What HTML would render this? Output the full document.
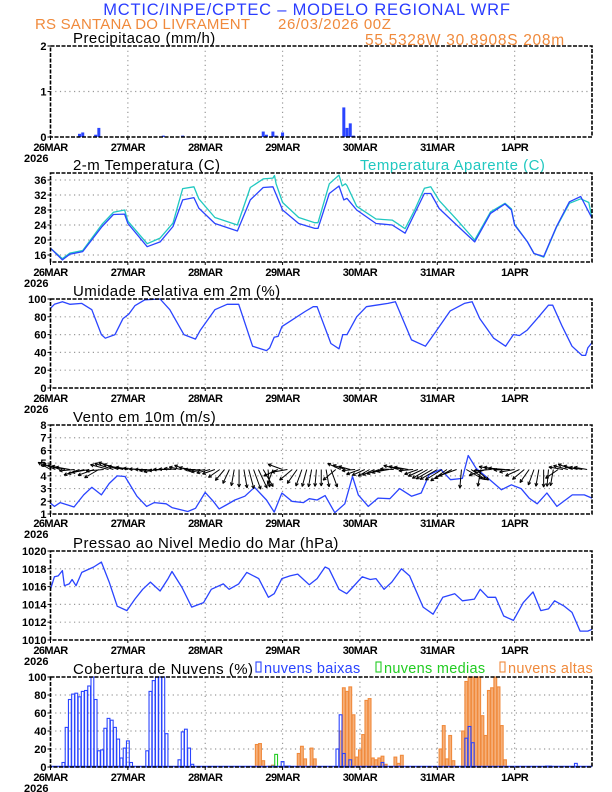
<!DOCTYPE html>
<html><head><meta charset="utf-8">
<style>
html,body{margin:0;padding:0;background:#fff;}
svg{display:block;font-family:"Liberation Sans",sans-serif;}
.tl{font-size:11px;font-weight:bold;fill:#000;}
.ttl{font-size:15px;fill:#000;letter-spacing:0.45px;}
</style></head>
<body>
<svg id="chart" width="612" height="792" viewBox="0 0 612 792" xmlns="http://www.w3.org/2000/svg">
<text x="307" y="15" text-anchor="middle" font-size="16.5" fill="#2a3cff" letter-spacing="0.8">MCTIC/INPE/CPTEC – MODELO REGIONAL WRF</text>
<text x="35" y="29" font-size="15" fill="#f08a3c" letter-spacing="0.2">RS SANTANA DO LIVRAMENT</text>
<text x="278" y="29" font-size="15" fill="#f08a3c" letter-spacing="0.6">26/03/2026 00Z</text>
<text x="365" y="45" font-size="15.5" fill="#f08a3c" letter-spacing="0.7">55.5328W 30.8908S 208m</text>
</svg>
<script>
const NS="http://www.w3.org/2000/svg";
const svg=document.getElementById('chart');
const BLUE="#2a44ff", CYAN="#20c8c0", ORANGE="#f08a3c", GREEN="#22cc22";
const dayLabels=["26MAR","27MAR","28MAR","29MAR","30MAR","31MAR","1APR"];
const precipHours=[9,10,14,15,35,41,66,67,69,70,72,91,92,93,94];
const precipVals=[0.07,0.1,0.05,0.2,0.03,0.03,0.12,0.05,0.12,0.03,0.1,0.65,0.2,0.3,0.03];
const tempHours=[0,3.7,6,10,16,19.5,23,24,30,34,38,41,44.5,46,51,58,62,66,69,72,77,82,83,86.5,89.5,91,92,95,101,106,110,113,116,118,120.6,126,131.6,136.5,141,143,144,148,150,153,157,161,164.5,168];
const tempVals=[17.8,14.7,16.2,16.9,23.6,26.8,26.9,24.4,18.2,19.5,23.6,30.7,31.3,28.5,24.4,22.4,30.7,34,34.2,28,24.4,23.1,23.1,32.4,34.4,30.7,31.1,28,24.4,24,21.8,27.1,32.4,32.4,28.4,24,19.5,27.1,29.6,28,24,19.5,16.4,15.6,23.6,30.2,31.6,25.8];
const appHours=[0,3.7,6,10,16,19.5,23,24,30,34,38,41,44.5,46,51,58,62,66,69,69.5,70,72,77,82,83,86.5,89.5,90.5,91.5,92,95,101,106,110,113,116,118,120.6,126,131.6,136.5,141,143,144,148,150,153,157,161,164.5,167,168];
const appVals=[17.8,15,16.5,17.2,24.2,27.4,28,25,19,20.5,24.5,33.7,34.2,31,26,24,34,36.3,36.5,37.2,35,30,26,24.6,24.6,35,37.3,34.4,35,34.5,29,25.6,25.3,23,28,33.8,34.2,30.5,25.5,20,27.5,29.8,28.3,24.2,19.5,16.4,15.4,23.4,29.8,31,30,25.8];
const rhHours=[0,1.2,3.7,6,9.7,12.8,15.8,17,20,22.5,24.3,26.2,29.2,34,37,41.4,45,46.5,51,54.8,58.4,62.7,67,68,69.4,70.6,71.8,74.3,79,81.5,82.7,87,89.5,90.7,92,95,98,101,104.7,107,112,116.3,119.3,124,128.4,130.8,133.2,137.5,141.2,143.6,145.5,147.9,151,154.5,155.8,158.8,161.8,164.9,166,166.7,168];
const rhVals=[89.5,94,97,94,95,88,60,56,60,78,83,92.5,99,100,88,60,55,65,88,94,94,47,42,45,57,58,69,75,86,91.4,91.4,50,44,60,60,80,91.4,93,95,97,54,47,62,86.6,95,97,78,56,47,60,59,65,78,93,93,69,47,36.6,36.6,45,51];
const windHours=[0,1.2,3,5.5,7.3,10.3,12.8,15.8,18.2,20.7,23.1,26.8,29.8,32.2,35.9,37.7,42.6,45,48,50.5,52.3,54.8,57.2,60.3,63.3,67,69.4,71.8,74.9,78.5,80.3,82.7,85.2,88.2,91.3,93.7,95.5,98.6,101.6,105.3,108.3,112,115,117.5,121.1,124.1,127.8,129.6,132,136.3,139.9,143,146,148.5,151,154,157.1,161.9,165.6,168];
const windVals=[1.86,1.6,1.9,1.7,1.55,2.5,3.1,2.5,3.4,4.0,3.95,2.4,1.6,1.9,1.8,1.5,1.2,1.45,2.7,2.0,1.4,1.75,2.1,2.4,3.1,2.1,1.15,2.65,2.0,1.9,2.2,2.1,2.45,1.1,1.8,3.95,2.5,1.6,2.25,2.2,3.0,2.4,2.65,4.1,4.5,3.7,3.8,5.6,4.6,3.7,2.9,3.3,3.0,2.25,1.8,2.65,1.6,2.5,2.5,2.25];
const arrowHours=[0,1.5,3,4.5,6,7.5,9,10.5,12,13.5,15,16.5,18,19.5,21,22.5,24,25.5,27,28.5,30,31.5,33,34.5,36,37.5,39,40.5,42,43.5,45,46.5,48,49.5,51,52.5,54,55.5,57,58.5,60,61.5,63,64.5,66,67.5,69,70.5,72,73.5,75,76.5,78,79.5,81,82.5,84,85.5,87,88.5,90,91.5,93,94.5,96,97.5,99,100.5,102,103.5,105,106.5,108,109.5,111,112.5,114,115.5,117,118.5,120,121.5,123,124.5,126,127.5,129,130.5,132,133.5,135,136.5,138,139.5,141,142.5,144,145.5,147,148.5,150,151.5,153,154.5,156,157.5,159,160.5,162,163.5,165,166.5];
const arrowDirs=[150,155,160,165,170,185,200,195,190,200,210,185,165,162,160,165,170,172,175,178,180,185,190,185,180,178,175,168,160,170,180,185,190,195,200,215,230,245,260,270,280,285,290,295,300,275,250,205,160,190,220,235,250,255,260,265,270,280,290,220,155,160,165,185,200,205,210,205,200,195,190,178,165,168,170,185,200,205,210,210,210,212,215,208,200,265,330,325,320,260,200,185,170,172,175,182,190,205,220,235,250,260,270,265,260,215,170,165,160,165,170,170];
const arrowSpeeds=[2.6,2.5,2.4,2.5,2.6,2.8,3.0,3.1,3.2,3.1,3.0,3.2,3.4,3.6,3.8,3.7,3.6,3.1,2.6,2.4,2.2,2.3,2.4,2.4,2.4,2.3,2.2,2.2,2.2,2.1,2.0,2.3,2.6,2.5,2.4,2.5,2.6,2.8,3.0,3.2,3.4,3.6,3.8,3.7,3.6,3.2,2.8,2.8,2.8,2.9,3.0,3.1,3.2,3.2,3.2,3.1,3.0,3.2,3.4,3.0,2.6,2.4,2.2,2.4,2.6,2.5,2.4,2.4,2.4,2.3,2.2,2.5,2.8,2.7,2.6,2.6,2.6,2.9,3.2,3.4,3.6,3.6,3.6,3.5,3.4,3.4,3.4,3.2,3.0,3.1,3.2,3.1,3.0,3.0,3.0,2.9,2.8,2.8,2.8,2.9,3.0,3.1,3.2,3.1,3.0,2.8,2.6,2.7,2.8,2.6,2.4,2.4];
const presHours=[0,1.2,2.4,3.7,4.3,5.8,6.7,7.9,9.7,13.4,15.8,18.2,20.7,23.7,26.2,28.6,31,34,36.5,37.7,40.8,43.8,47.5,49.9,53.6,55.4,58.4,60.9,64.6,67.6,69.4,71.8,74.3,76.7,80.3,82.7,85.2,86.4,89.5,91.9,93.7,96.7,99.2,101,103.5,105.9,108.9,111.4,115.6,118.7,121.7,125.4,127.8,131.5,133.3,135.7,138.1,140.6,143.6,146.7,149.7,152.1,154.5,156.4,159.4,161.8,164.3,166.7,168];
const presVals=[1015.7,1017.1,1017.2,1017.8,1016.1,1016.3,1016.8,1016.1,1017.6,1018.2,1018.75,1016.5,1013.8,1013.3,1014.6,1015.7,1016.5,1015.5,1016.9,1017.7,1015.9,1013.7,1014.2,1015.7,1016.3,1015.7,1016.3,1017.6,1016.9,1014.8,1015.2,1016.9,1017.2,1017.4,1016.2,1016.9,1018.2,1018,1015.7,1015.2,1015.9,1017.1,1016.8,1016.9,1015.7,1016.5,1018,1017.2,1013.7,1012.9,1014.8,1015.2,1014.4,1014.6,1015.7,1014.8,1014.8,1012.7,1012.2,1014.2,1015.4,1013.3,1013.5,1014.4,1013.8,1013.1,1011.0,1011.0,1011.2];
const lowHours=[4,5,6,7,8,9,10,11,12,13,14,15,16,17,18,19,20,21,22,23,24,25,30,31,32,33,34,35,36,40,41,42,43,44,72,73,74,89,90,91,93,103,129,130,131,154,155,163];
const lowVals=[5,44,75,81,82,78,84,85,90,100,75,18,19,43,54,52,44,31,10,21,29,5,18,84,96,100,100,100,37,8,39,42,21,3,6,1,1,20,58,15,8,5,32,45,27,1,1,4];
const midHours=[69,70];
const midVals=[1,14];
const highHours=[64,65,66,68,69,77,78,79,81,82,90,91,92,93,94,95,96,97,98,99,100,101,102,103,104,107,108,109,121,122,123,124,125,128,129,130,131,132,133,134,135,136,137,138,139,140,141];
const highVals=[25,26,7,1,2,15,23,9,21,9,40,88,84,89,58,11,19,36,74,76,10,8,10,12,3,11,4,13,20,46,9,35,7,40,95,100,100,100,100,57,35,85,88,100,89,46,8];

const X0=50.5, X1=592, HMAX=168;
function xh(h){return X0+h*(X1-X0)/HMAX;}
function el(tag,attrs,parent){const e=document.createElementNS(NS,tag);for(const k in attrs)e.setAttribute(k,attrs[k]);(parent||svg).appendChild(e);return e;}

function panel(name,top,bot,vmin,vmax,ticks,title,labelY){
  const g=el('g',{});
  
  
  const y=v=>bot-(v-vmin)*(bot-top)/(vmax-vmin);
  for(let d=1;d<7;d++){const x=xh(d*24);const l=el('line',{x1:x,x2:x,y1:top,y2:bot,stroke:'#999','stroke-dasharray':'1.2,3.5','stroke-width':1.2},g);
    }
  ticks.forEach(t=>{const yy=y(t);
    if(t!==vmin&&t!==vmax){const l=el('line',{x1:X0,x2:X1,y1:yy,y2:yy,stroke:'#999','stroke-dasharray':'1.2,3.5','stroke-width':1.2},g);
      }
    el('line',{x1:X0-3,x2:X0,y1:yy,y2:yy,stroke:'#000'},g);
    const tx=el('text',{x:X0-4,y:yy+4,'text-anchor':'end',class:'tl'},g);tx.textContent=t;
    });
  const tt=el('text',{x:73,y:top-3,class:'ttl'},g);tt.textContent=title;
  
  dayLabels.forEach((dl,i)=>{const x=xh(i*24);
    el('line',{x1:x,x2:x,y1:bot,y2:bot+3,stroke:'#000'},g);
    const t=el('text',{x:x,y:bot+labelY,'text-anchor':'middle',class:'tl','letter-spacing':'-0.6'},g);t.textContent=dl;
    });
  const yr=el('text',{x:24,y:bot+labelY+11,class:'tl'},g);yr.textContent='2026';
  
  return {g,y,top,bot};
}
function frame(p){const r=el('rect',{x:X0,y:p.top,width:X1-X0,height:p.bot-p.top,fill:'none',stroke:'#000','stroke-width':1.6,'stroke-dasharray':'4,1.5'},p.g);
  }
function line(p,hs,vs,color,name){const pts=hs.map((h,i)=>xh(h).toFixed(1)+','+p.y(vs[i]).toFixed(1)).join(' ');
  const l=el('polyline',{points:pts,fill:'none',stroke:color,'stroke-width':1.3,'stroke-linejoin':'round'},p.g);
  }

// Precip
const p1=panel('precipitation',46,137,0,2,[0,1,2],'Precipitacao (mm/h)',14);
precipHours.forEach((h,i)=>{const b=el('rect',{x:xh(h)-1.5,y:p1.y(precipVals[i]),width:3,height:p1.bot-p1.y(precipVals[i]),fill:BLUE},p1.g);
  });
frame(p1);

// Temperature
const p2=panel('temperature',173,262,14.13,37.87,[16,20,24,28,32,36],'2-m Temperatura (C)',14);
const ta=el('text',{x:360,y:170,'font-size':15,fill:CYAN,'letter-spacing':0.5},p2.g);ta.textContent='Temperatura Aparente (C)';

line(p2,appHours,appVals,CYAN,'apparent-temperature-line');
line(p2,tempHours,tempVals,BLUE,'temperature-line');
frame(p2);

// Humidity
const p3=panel('humidity',299,388,0,100,[0,20,40,60,80,100],'Umidade Relativa em 2m (%)',14);
line(p3,rhHours,rhVals,BLUE,'humidity-line');
frame(p3);

// Wind
const p4=panel('wind',425,514,1,8,[1,2,3,4,5,6,7,8],'Vento em 10m (m/s)',13);
line(p4,windHours,windVals,BLUE,'wind-speed-line');
arrowHours.forEach((h,i)=>{const x=xh(h),y=p4.y(4.5);const a=arrowDirs[i]*Math.PI/180;const L=arrowSpeeds[i]*5.5;
  const x2=x+L*Math.cos(a),y2=y-L*Math.sin(a);
  const g=el('g',{},p4.g);
  
  el('line',{x1:x,y1:y,x2:x2,y2:y2,stroke:'#000','stroke-width':1},g);
  const hl=3.5;[0.45,-0.45].forEach(d=>{el('line',{x1:x2,y1:y2,x2:x2-hl*Math.cos(a+d),y2:y2+hl*Math.sin(a+d),stroke:'#000','stroke-width':1},g);});
});
frame(p4);

// Pressure
const p5=panel('pressure',551,640,1010,1020,[1010,1012,1014,1016,1018,1020],'Pressao ao Nivel Medio do Mar (hPa)',14);
line(p5,presHours,presVals,BLUE,'pressure-line');
frame(p5);

// Clouds
const p6=panel('clouds',677,767,0,100,[0,20,40,60,80,100],'Cobertura de Nuvens (%)',14);
function bars(hs,vs,color,fillc,name){hs.forEach((h,i)=>{const b=el('rect',{x:xh(h)-1.4,y:p6.y(vs[i]),width:2.8,height:p6.bot-p6.y(vs[i]),fill:fillc,stroke:color,'stroke-width':1.1},p6.g);
  });}
bars(highHours,highVals,ORANGE,'#f6b07a','high-cloud-bar');
bars(midHours,midVals,GREEN,'none','mid-cloud-bar');
bars(lowHours,lowVals,BLUE,'none','low-cloud-bar');
const bl=el('line',{x1:X0,x2:X1,y1:766.5,y2:766.5,stroke:BLUE,'stroke-width':1.5},p6.g);

[[256,'nuvens baixas',BLUE],[376,'nuvens medias',GREEN],[500,'nuvens altas',ORANGE]].forEach(([x,t,c])=>{
  const g=el('g',{},p6.g);
  
  el('rect',{x:x,y:662,width:5,height:10,fill:'none',stroke:c,'stroke-width':1.1},g);
  const tx=el('text',{x:x+8,y:673,'font-size':14.5,fill:c,'letter-spacing':0.3},g);tx.textContent=t;});
frame(p6);
</script>
</body></html>
